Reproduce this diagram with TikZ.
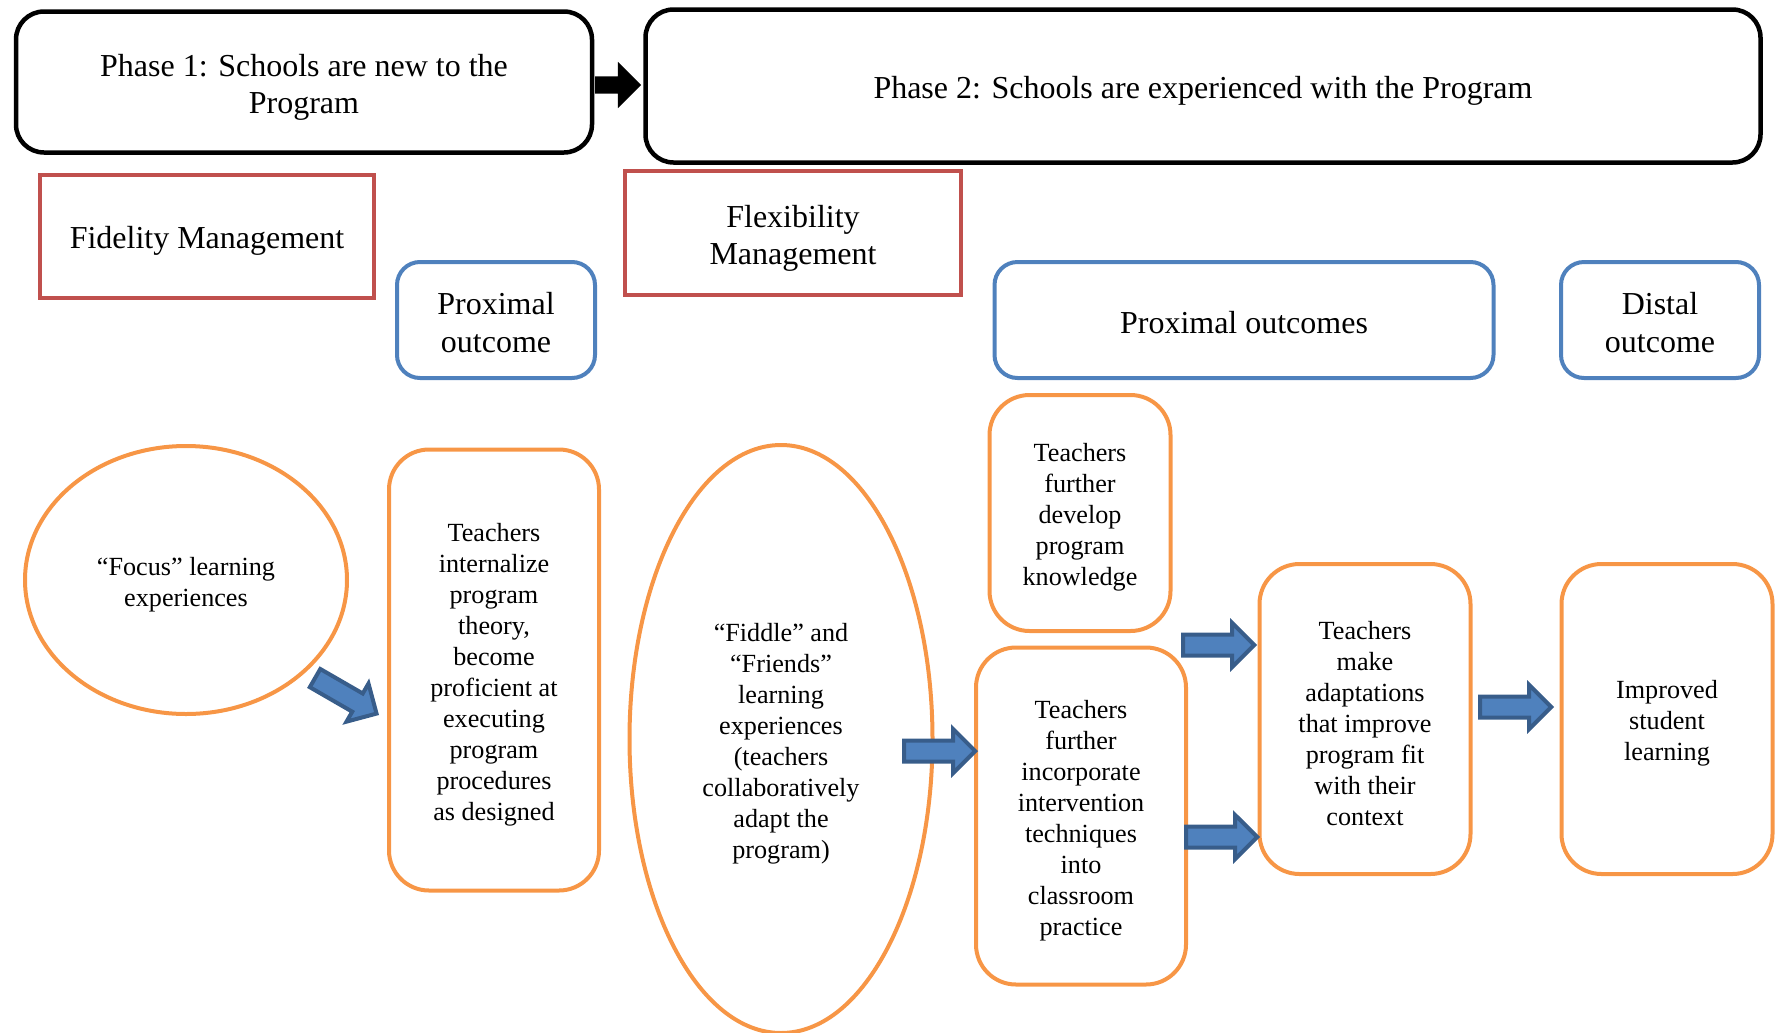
\documentclass[tikz,border=0pt]{standalone}
\usepackage{fontspec}
\setmainfont{Liberation Serif}
\usetikzlibrary{shapes.geometric, shapes.arrows}

\definecolor{mgmtred}{HTML}{C0504D}
\definecolor{outblue}{HTML}{4F81BD}
\definecolor{stageorange}{HTML}{F79646}
\definecolor{arrowfill}{HTML}{4F81BD}
\definecolor{arrowline}{HTML}{385D8A}

\tikzset{
    textdrop/.style = {execute at begin node = {\setbox0=\hbox\bgroup},
        execute at end node = {\egroup\ht0=\dimexpr\ht0+#1\relax\box0}},
    headfont/.style = {font = \fontsize{9.1}{10.7}\selectfont, align = center},
    headtext/.style = {headfont, textdrop = 3pt},
    smalltext/.style = {font = \fontsize{7.45}{8.8}\selectfont, align = center, textdrop = 2.6pt},
    phasebox/.style = {draw, line width = 0.45mm, rounded corners = 2.8mm, headtext},
    mgmtbox/.style = {draw = mgmtred, line width = 0.4mm, headtext},
    outbox/.style = {draw = outblue, line width = 0.4mm, rounded corners = 2.3mm, headfont, textdrop = 1.5pt},
    stagebox/.style = {draw = stageorange, line width = 0.4mm, rounded corners = 4mm, smalltext},
    stageoval/.style = {ellipse, draw = stageorange, line width = 0.4mm, inner sep = 0, smalltext},
    bluearrow/.style = {single arrow, draw = arrowline, fill = arrowfill, line width = 0.4mm,
        inner xsep = 0, inner ysep = 0.85mm, minimum width = 0, single arrow head extend = 1.15mm,
        minimum height = 7.1mm, anchor = tip}
}

\begin{document}
\begin{tikzpicture}[x = 0.1mm, y = -0.1mm]

        % Page frame.
        \useasboundingbox (0, 0) rectangle (1779, 1032);

        % The two phases.
        \node[phasebox, minimum width = 57.6mm, minimum height = 14.1mm] (phase1) at (304, 82) {Phase 1: Schools are new to the\\Program};
        \node[phasebox, minimum width = 111.5mm, minimum height = 15.3mm] (phase2) at (1203, 86) {Phase 2: Schools are experienced with the Program};
        \node[single arrow, fill = black, inner xsep = 0, inner ysep = 0.8mm, minimum width = 0,
            single arrow head extend = 1.45mm, minimum height = 4.6mm, anchor = tip] (phasearrow) at (642, 85) {};

        % Management headings.
        \node[mgmtbox, minimum width = 33.4mm, minimum height = 12.3mm] (fidelity) at (207, 236) {Fidelity Management};
        \node[mgmtbox, minimum width = 33.6mm, minimum height = 12.4mm] (flexibility) at (793, 233) {Flexibility\\Management};

        % Outcome headings.
        \node[outbox, minimum width = 19.8mm, minimum height = 11.6mm] (proximal1) at (496, 320) {Proximal\\outcome};
        \node[outbox, minimum width = 49.9mm, minimum height = 11.6mm] (proximal2) at (1244, 320) {Proximal outcomes};
        \node[outbox, minimum width = 19.8mm, minimum height = 11.6mm] (distal) at (1660, 320) {Distal\\outcome};

        % Learning experiences.
        \node[stageoval, minimum width = 32.2mm, minimum height = 26.8mm] (focus) at (186, 580) {“Focus” learning\\experiences};
        \node[stageoval, minimum width = 30.3mm, minimum height = 58.8mm] (fiddle) at (781, 739) {“Fiddle” and\\“Friends”\\learning\\experiences\\(teachers\\collaboratively\\adapt the\\program)};

        % Outcome boxes.
        \node[stagebox, minimum width = 21mm, minimum height = 44.1mm] (internalize) at (494, 670) {Teachers\\internalize\\program\\theory,\\become\\proficient at\\executing\\program\\procedures\\as designed};
        \node[stagebox, minimum width = 18.1mm, minimum height = 23.6mm] (develop) at (1080, 513) {Teachers\\further\\develop\\program\\knowledge};
        \node[stagebox, minimum width = 21mm, minimum height = 33.7mm] (incorporate) at (1081, 816) {Teachers\\further\\incorporate\\intervention\\techniques\\into\\classroom\\practice};
        \node[stagebox, minimum width = 21.1mm, minimum height = 31mm] (adapt) at (1365, 719) {Teachers\\make\\adaptations\\that improve\\program fit\\with their\\context};
        \node[stagebox, minimum width = 21.1mm, minimum height = 31mm] (improved) at (1667, 719) {Improved\\student\\learning};

        % Block arrows between the stages.
        \node[bluearrow, rotate = -30] (focusarrow) at (379, 715) {};
        \node[bluearrow] (fiddlearrow) at (978, 751) {};
        \node[bluearrow] (developarrow) at (1257, 645) {};
        \node[bluearrow] (incorparrow) at (1260, 837) {};
        \node[bluearrow] (adaptarrow) at (1554, 707) {};
    \end{tikzpicture}
\end{document}
